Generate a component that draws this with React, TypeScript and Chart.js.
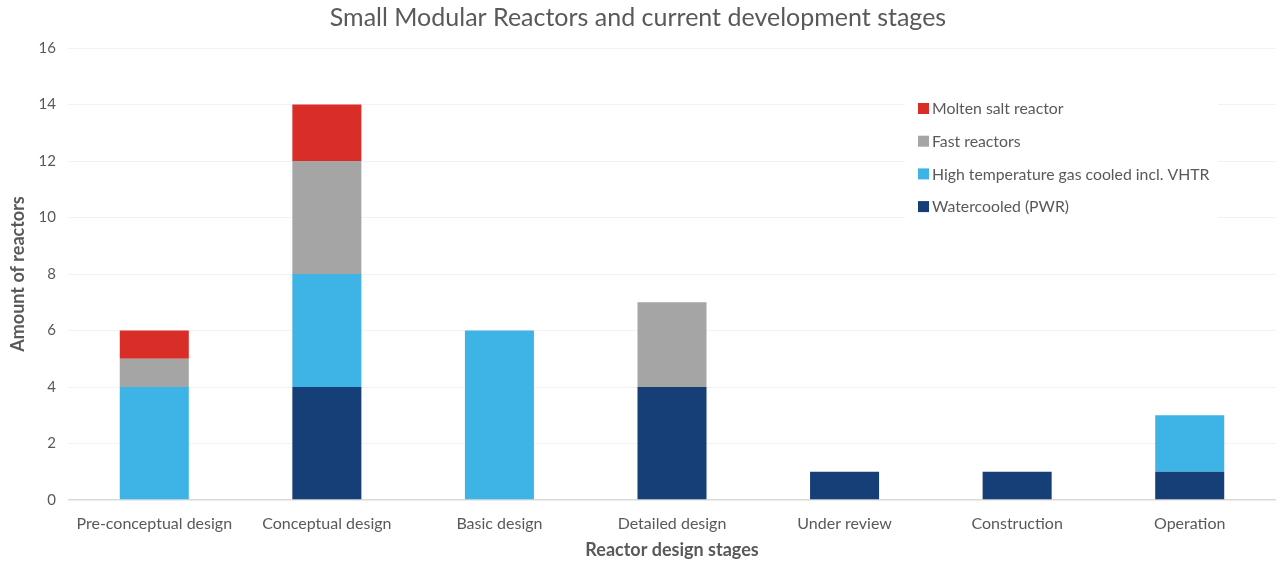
import React, { useEffect, useRef } from "react";
import { Chart, registerables } from "chart.js";

Chart.register(...registerables);

const categories = [
  "Pre-conceptual design",
  "Conceptual design",
  "Basic design",
  "Detailed design",
  "Under review",
  "Construction",
  "Operation",
];
const watercooled = [0, 4, 0, 4, 1, 1, 1];
const highTempGas = [4, 4, 6, 0, 0, 0, 2];
const fastReactors = [1, 4, 0, 3, 0, 0, 0];
const moltenSalt = [1, 2, 0, 0, 0, 0, 0];
const seriesNames = [
  "Watercooled (PWR)",
  "High temperature gas cooled incl. VHTR",
  "Fast reactors",
  "Molten salt reactor",
];
const seriesColors = ["#153F76", "#3EB3E6", "#A5A5A5", "#D92D27"];

const FONT = "Lato, 'Open Sans', sans-serif";
const TEXT = "#595959";

const insideLegend = {
  id: "insideLegend",
  afterDraw(chart: any) {
    const { ctx, chartArea } = chart;
    const x0 = chartArea.right - 358;
    const top = chartArea.top + 60;
    const rowH = 32.7;
    const n = chart.data.datasets.length;
    ctx.save();
    ctx.fillStyle = "#ffffff";
    ctx.fillRect(x0 - 13, top - 18, 313, rowH * n + 6);
    ctx.font = `15.8px ${FONT}`;
    ctx.textBaseline = "middle";
    for (let i = 0; i < n; i++) {
      const ds = chart.data.datasets[n - 1 - i];
      const y = top + i * rowH;
      ctx.fillStyle = ds.backgroundColor;
      ctx.fillRect(x0, y - 5, 11, 11);
      ctx.fillStyle = TEXT;
      ctx.fillText(ds.label, x0 + 14, y + 1);
    }
    ctx.restore();
  },
};

export default function App() {
  const ref = useRef<HTMLCanvasElement>(null);
  useEffect(() => {
    if (!ref.current) return;
    const values = [watercooled, highTempGas, fastReactors, moltenSalt];
    const chart = new Chart(ref.current, {
      type: "bar",
      data: {
        labels: categories,
        datasets: values.map((v, i) => ({
          label: seriesNames[i],
          data: v,
          backgroundColor: seriesColors[i],
          borderWidth: 0,
          categoryPercentage: 1,
          barPercentage: 0.4,
        })),
      },
      options: {
        animation: false,
        responsive: false,
        maintainAspectRatio: false,
        layout: { padding: { left: 0, right: 8, top: 0, bottom: 0 } },
        plugins: {
          legend: { display: false },
          tooltip: { enabled: false },
          title: {
            display: true,
            text: "Small Modular Reactors and current development stages",
            color: TEXT,
            font: { family: FONT, size: 25, weight: "normal" },
            padding: { top: 3, bottom: 15 },
          },
        },
        scales: {
          x: {
            stacked: true,
            grid: { display: false },
            border: { display: false },
            ticks: { color: TEXT, font: { family: FONT, size: 16 }, padding: 6, maxRotation: 0 },
            title: {
              display: true,
              text: "Reactor design stages",
              color: TEXT,
              font: { family: FONT, size: 18, weight: "bold" },
              padding: { top: 2, bottom: 1 },
            },
            afterFit: (s: any) => {
              s.height = 62;
            },
          },
          y: {
            stacked: true,
            min: 0,
            max: 16,
            ticks: { stepSize: 2, color: TEXT, font: { family: FONT, size: 15 }, padding: 12 },
            grid: {
              drawTicks: false,
              color: (c: any) => (c.tick && c.tick.value === 0 ? "#D9D9D9" : "#F2F2F2"),
              lineWidth: (c: any) => (c.tick && c.tick.value === 0 ? 1.5 : 1),
            },
            border: { display: false },
            title: {
              display: true,
              text: "Amount of reactors",
              color: TEXT,
              font: { family: FONT, size: 18, weight: "bold" },
              padding: { top: 7, bottom: 6 },
            },
            afterFit: (s: any) => {
              s.width = 68;
            },
          },
        },
      },
      plugins: [insideLegend],
    });
    return () => chart.destroy();
  }, []);
  return (
    <div style={{ position: "fixed", left: 0, top: 0, width: 1284, height: 562, background: "#fff" }}>
      <canvas ref={ref} width={1284} height={562} style={{ width: 1284, height: 562 }} />
    </div>
  );
}
